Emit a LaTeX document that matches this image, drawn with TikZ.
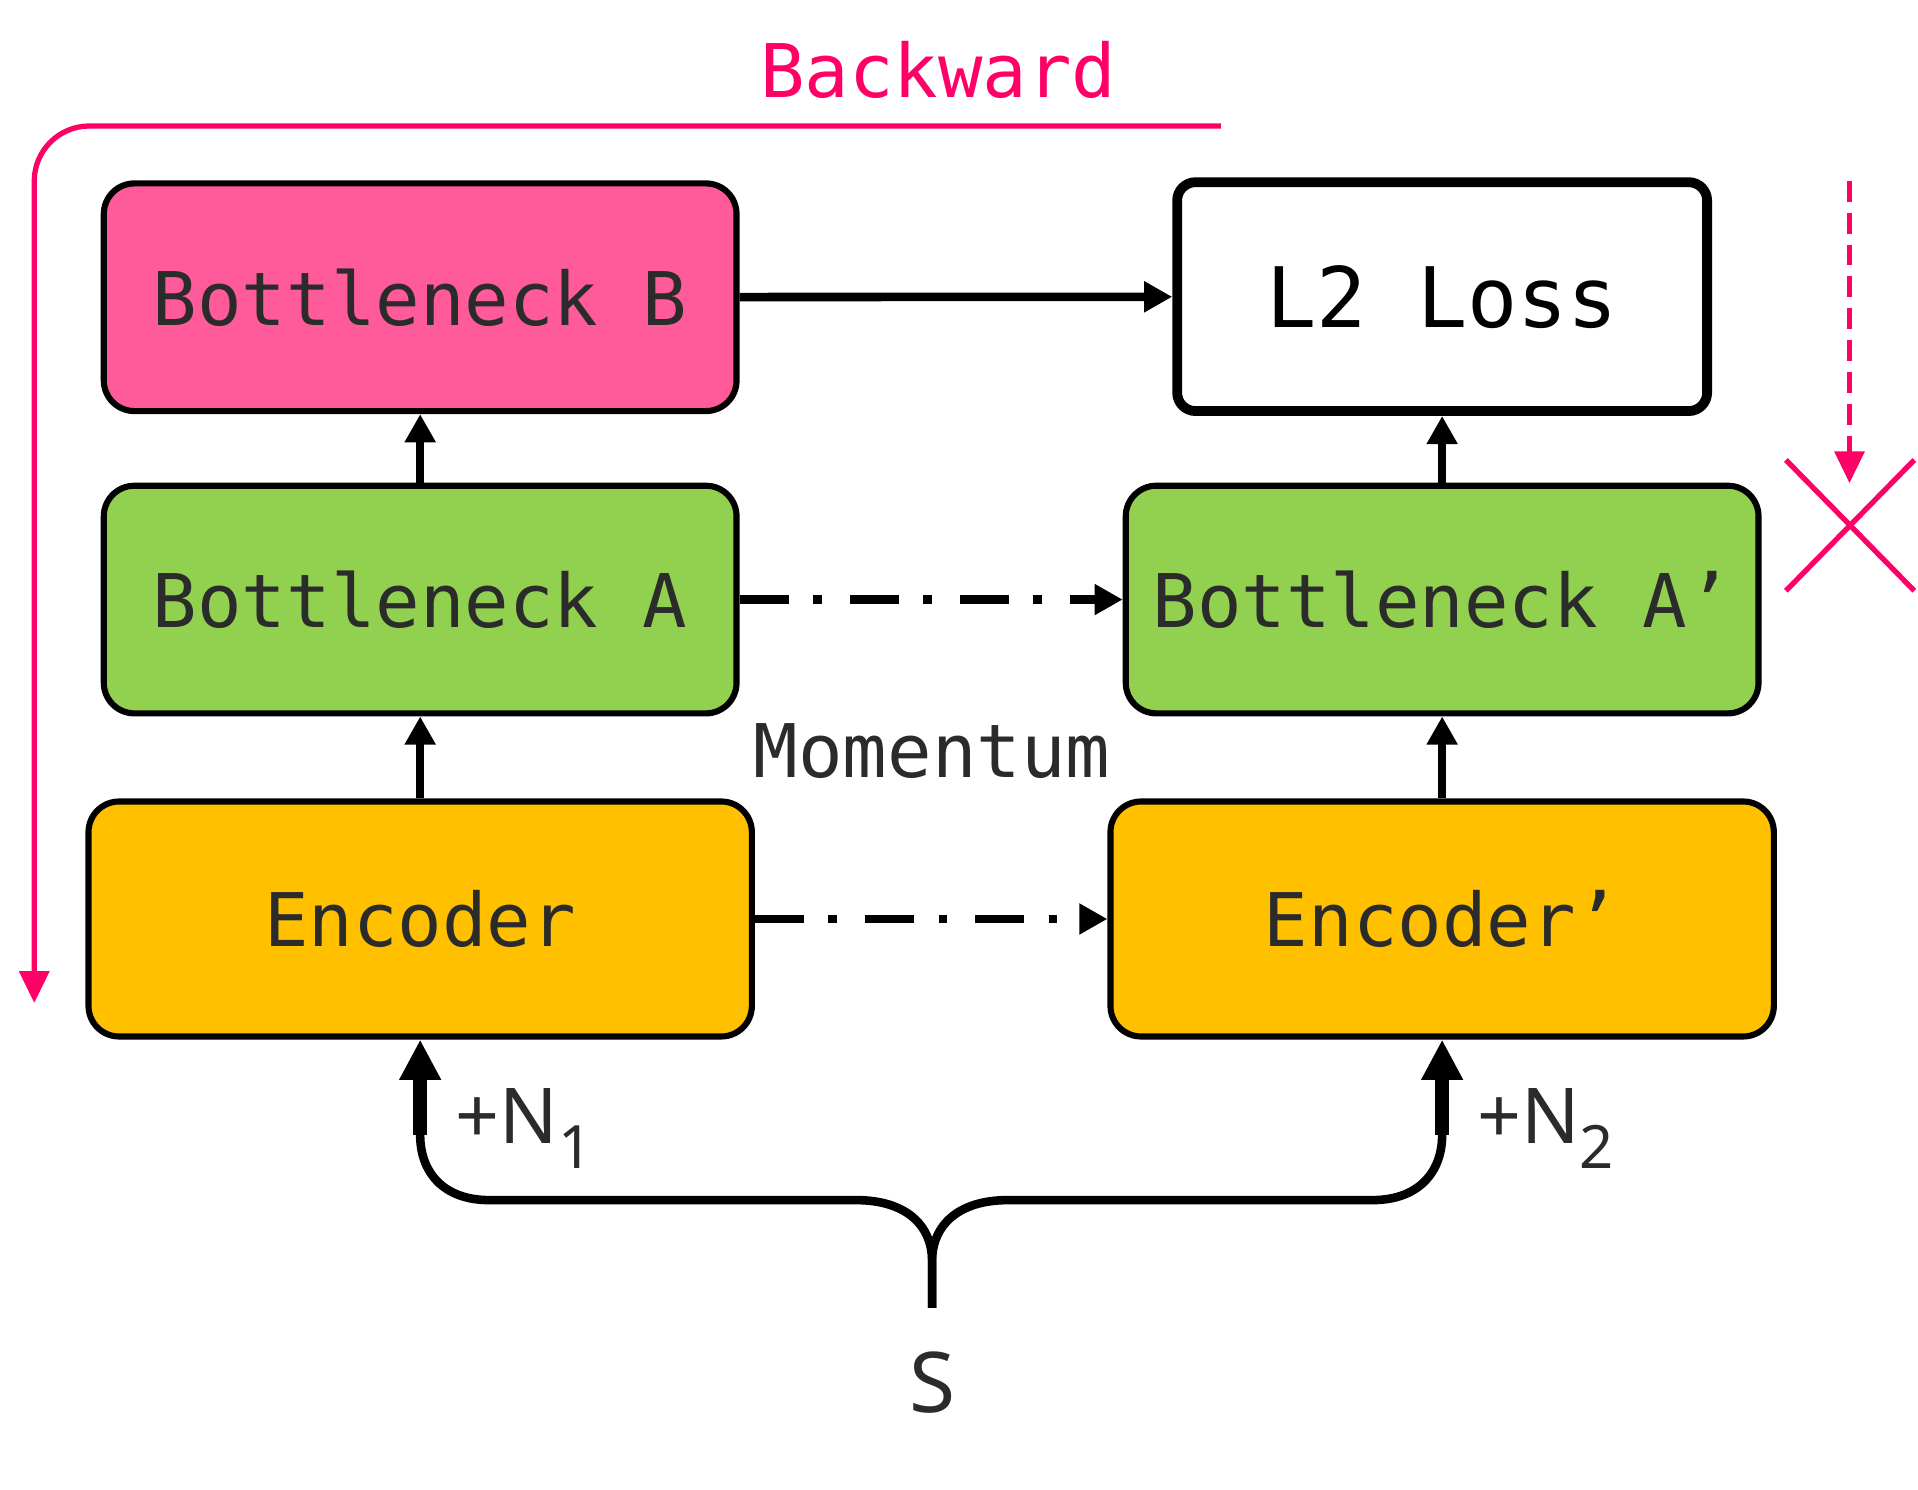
\documentclass[tikz,border=0pt]{standalone}
\usepackage{fontspec}
\setmainfont{Noto Sans}
\setmonofont{DejaVu Sans Mono}
\usetikzlibrary{positioning,arrows.meta}

\definecolor{hotpink}{HTML}{FF0066}
\definecolor{bnpink}{HTML}{FF5B9B}
\definecolor{bngreen}{HTML}{92D050}
\definecolor{encyellow}{HTML}{FFC000}
\definecolor{inkgray}{HTML}{2B2B2B}

\begin{document}
\begin{tikzpicture}[x=0.01cm,y=-0.01cm,
	block/.style={
		% The shape:
		rectangle, rounded corners=0.25cm,
		% The size:
		minimum width=5.17cm, minimum height=1.86cm,
		% The border:
		draw=black, line width=0.05cm,
		% Font
		text=inkgray, font=\ttfamily\fontsize{17.2}{20}\selectfont
		},
	encoder/.style={block, fill=encyellow, minimum width=5.42cm, minimum height=1.92cm},
	lossbox/.style={block, fill=white, text=black, rounded corners=0.15cm,
		line width=0.08cm, minimum width=4.33cm, minimum height=1.87cm,
		font=\ttfamily\fontsize{19.4}{22}\selectfont},
	flow/.style={line width=0.07cm, -{Triangle[length=0.23cm,width=0.24cm]}},
	momentum/.style={flow, dash pattern=on 0.4cm off 0.2cm on 0.07cm off 0.23cm},
	noise/.style={line width=0.11cm, -{Triangle[length=0.33cm,width=0.32cm]}},
	backward/.style={hotpink, line width=0.043cm, -{Triangle[length=0.26cm,width=0.24cm]}},
	plain/.style={text=inkgray, font=\ttfamily\fontsize{17.2}{20}\selectfont}
	]

	\useasboundingbox (0,0) rectangle (1568,1218);

	\node (bnb) [block, fill=bnpink] at (343.5,243) {Bottleneck B};
	\node (bna) [block, fill=bngreen, below=0.56cm of bnb] {Bottleneck A};
	\node (enc) [encoder, below=0.67cm of bna] {Encoder};
	\node (bnap) [block, fill=bngreen, right=3.13cm of bna] {Bottleneck A’};
	\node (loss) [lossbox, above=0.545cm of bnap] {L2 Loss};
	\node (encp) [encoder, right=2.88cm of enc] {Encoder’};

	\node (mom) [plain] at (762,614) {Momentum};
	\node (bwlabel) [plain, text=hotpink] at (767,57) {Backward};
	\node (s) [text=inkgray, font=\fontsize{19.5}{22}\selectfont, inner sep=0.35cm] at (762,1130) {S};

	\coordinate (n1) at ([yshift=-0.78cm]enc.south);
	\coordinate (n2) at ([yshift=-0.78cm]encp.south);
	\node (n1label) [anchor=base west, inner sep=0, text=inkgray, font=\fontsize{17.9}{20}\selectfont]
		at (372,935) {+N\raisebox{-0.2cm}{\fontsize{13.9}{14}\selectfont 1}};
	\node (n2label) [anchor=base west, inner sep=0, text=inkgray, font=\fontsize{17.9}{20}\selectfont]
		at (1207,935) {+N\raisebox{-0.2cm}{\fontsize{13.9}{14}\selectfont 2}};

	\path (bna) edge[flow] (bnb);
	\path (enc) edge[flow] (bna);
	\path (bnap) edge[flow] (loss);
	\path (encp) edge[flow] (bnap);
	\path (bnb) edge[flow] (loss);
	\path (bna) edge[momentum] (bnap);
	\path (enc) edge[momentum] (encp);

	% the brace from S
	\draw[line width=0.07cm] (s.north) -- ++(0,-38) .. controls +(0,-30) and +(40,0) .. ++(-62,-50)
		-- ++(-300,0) .. controls +(-38,0) and +(0,30) .. (n1);
	\draw[line width=0.07cm] (s.north) -- ++(0,-38) .. controls +(0,-30) and +(-40,0) .. ++(62,-50)
		-- ++(298,0) .. controls +(38,0) and +(0,30) .. (n2);
	\draw[noise] (n1) -- (n1 |- enc.south);
	\draw[noise] (n2) -- (n2 |- encp.south);

	% backward pass
	\coordinate (bwstart) at (998,103);
	\coordinate (bwend) at (28,820);
	\draw[backward, rounded corners=0.45cm] (bwstart) -- (bwstart -| bwend) -- (bwend);

	\coordinate (cutstart) at (1512,148);
	\coordinate (cutend) at (1512,395);
	\draw[backward, dash pattern=on 0.17cm off 0.09cm] (cutstart) -- (cutend);
	\draw[hotpink, line width=0.043cm] (1460,376) -- (1565,483);
	\draw[hotpink, line width=0.043cm] (1460,483) -- (1565,376);

\end{tikzpicture}
\end{document}
